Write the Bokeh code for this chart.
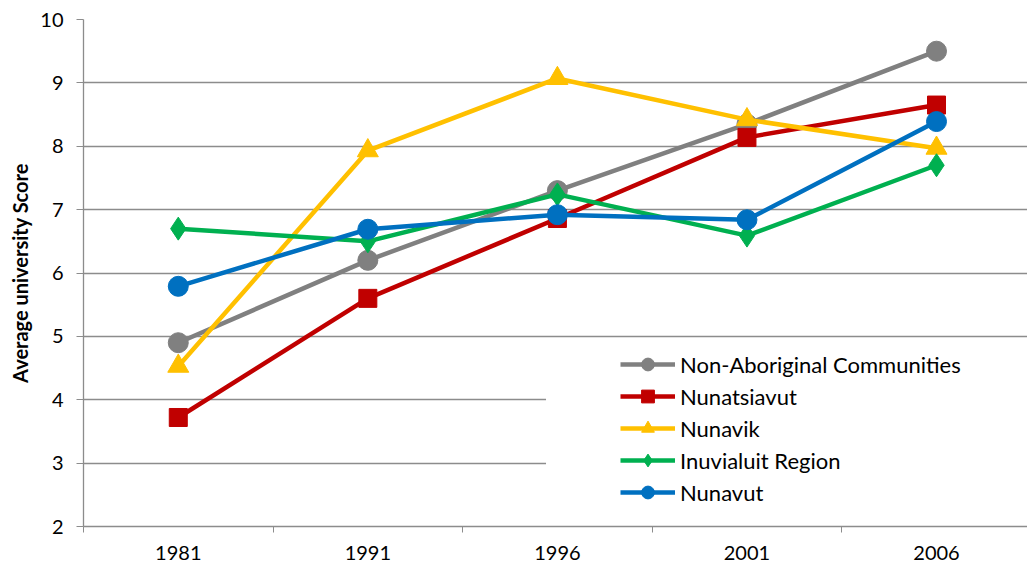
from bokeh.plotting import figure
from bokeh.models import Range1d, FixedTicker, CustomJSTickFormatter, BoxAnnotation, Legend
from bokeh.embed import file_html
from bokeh.resources import INLINE

years = ["1981", "1991", "1996", "2001", "2006"]
non_aboriginal = [4.9, 6.2, 7.3, 8.35, 9.5]
nunatsiavut = [3.72, 5.6, 6.86, 8.14, 8.65]
nunavik = [4.53, 7.93, 9.07, 8.42, 7.97]
inuvialuit = [6.7, 6.5, 7.24, 6.59, 7.7]
nunavut = [5.79, 6.69, 6.92, 6.84, 8.39]

FONT = "Lato"
x = [i + 0.5 for i in range(len(years))]

p = figure(frame_width=944, frame_height=507, output_backend="svg", toolbar_location=None,
           x_range=Range1d(0, 4.98), y_range=Range1d(2, 10),
           min_border_left=83, min_border_top=19, min_border_right=0, min_border_bottom=40)
p.outline_line_color = None
p.background_fill_color = "white"

# legend background box (covers grid lines)
box = BoxAnnotation(left=2.44, top=4.8, bottom=2.03, fill_color="white", fill_alpha=1.0,
                    line_color=None, level="annotation")
p.add_layout(box)

series = [
    ("Non-Aboriginal Communities", non_aboriginal, "#808080", "circle", 20),
    ("Nunatsiavut", nunatsiavut, "#C00000", "square", 18),
    ("Nunavik", nunavik, "#FFC000", "triangle", 21),
    ("Inuvialuit Region", inuvialuit, "#00B050", "diamond", 23),
    ("Nunavut", nunavut, "#0070C0", "circle", 20),
]
items = []
for name, vals, col, mk, sz in series:
    l = p.line(x, vals, line_color=col, line_width=4.5)
    s = p.scatter(x, vals, marker=mk, size=sz, fill_color=col, line_color=col)
    items.append((name, [l, s]))

legend = Legend(items=items, location=(537, 18), padding=0, margin=0, spacing=0,
                glyph_width=55, glyph_height=32, label_height=32, label_standoff=5,
                background_fill_alpha=0, border_line_color=None,
                label_text_font=FONT, label_text_font_size="22px", label_text_color="black")
p.add_layout(legend)

# grid
p.xgrid.grid_line_color = None
p.ygrid.grid_line_color = "#8c8c8c"
p.ygrid.grid_line_width = 1.3
p.yaxis.ticker = FixedTicker(ticks=list(range(2, 11)))

# y axis
p.yaxis.axis_label = "Average university Score"
p.yaxis.axis_label_text_font = FONT
p.yaxis.axis_label_text_font_style = "bold"
p.yaxis.axis_label_text_font_size = "20px"
p.yaxis.axis_label_text_color = "black"
p.yaxis.axis_line_color = "#8c8c8c"
p.yaxis.axis_line_width = 1.3
p.yaxis.major_tick_line_color = "#8c8c8c"
p.yaxis.major_tick_out = 7
p.yaxis.major_tick_in = 0
p.yaxis.minor_tick_line_color = None
p.yaxis.major_label_text_font = FONT
p.yaxis.major_label_text_font_size = "20px"
p.yaxis.major_label_text_color = "black"
p.yaxis.major_label_standoff = 13

# x axis: labels at centres, tick marks at category boundaries
p.xaxis.ticker = FixedTicker(ticks=x, minor_ticks=list(range(len(years) + 1)))
p.xaxis.formatter = CustomJSTickFormatter(args=dict(labels=years),
                                          code="return labels[Math.round(tick - 0.5)] || '';")
p.xaxis.axis_line_color = "#8c8c8c"
p.xaxis.axis_line_width = 1.3
p.xaxis.major_tick_line_color = None
p.xaxis.major_tick_out = 0
p.xaxis.major_tick_in = 0
p.xaxis.minor_tick_line_color = "#8c8c8c"
p.xaxis.minor_tick_out = 6
p.xaxis.minor_tick_in = 0
p.xaxis.major_label_text_font = FONT
p.xaxis.major_label_text_font_size = "20px"
p.xaxis.major_label_text_color = "black"
p.xaxis.major_label_standoff = 13

open("out.html", "w").write(file_html(p, INLINE))
